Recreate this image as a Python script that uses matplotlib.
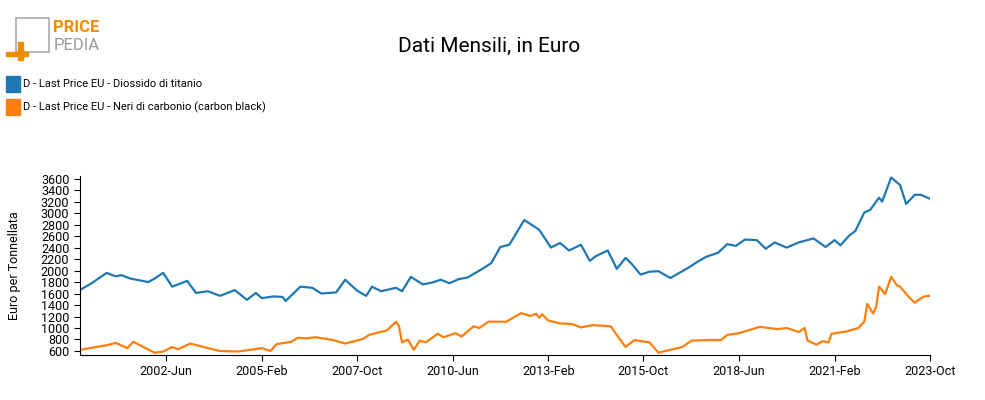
import matplotlib
matplotlib.use("Agg")
import matplotlib.pyplot as plt
from matplotlib.patches import Rectangle
import datetime as dt

# month offsets from 2000-Jan
tio2_months = [0, 4, 9, 12, 14, 17, 20, 23, 25, 28, 31, 36, 39, 43, 47, 52, 56, 59, 61, 65, 68,
               69, 74, 78, 81, 86, 89, 93, 96, 98, 101, 106, 108, 111, 115, 118, 121, 124, 127,
               130, 135, 138, 141, 144, 149, 154, 158, 161, 164, 168, 171, 173, 177, 180, 183,
               185, 188, 191, 194, 198, 201, 204, 207, 210, 214, 217, 220, 223, 227, 230, 233,
               237, 241, 246, 250, 253, 255, 258, 260, 263, 265, 268, 269, 272, 275, 277, 280,
               282, 285]
tio2_values = [1660, 1780, 1960, 1900, 1920, 1860, 1830, 1800, 1860, 1960, 1720, 1820, 1610,
               1640, 1560, 1660, 1490, 1610, 1520, 1550, 1540, 1470, 1720, 1700, 1600, 1620,
               1840, 1650, 1560, 1720, 1640, 1700, 1640, 1890, 1760, 1790, 1840, 1780, 1850,
               1880, 2030, 2130, 2410, 2450, 2880, 2710, 2400, 2480, 2350, 2450, 2170, 2250,
               2350, 2030, 2220, 2120, 1930, 1980, 1990, 1870, 1960, 2050, 2150, 2240, 2310,
               2460, 2430, 2540, 2530, 2380, 2490, 2400, 2490, 2560, 2410, 2530, 2440, 2610,
               2690, 3010, 3060, 3270, 3200, 3620, 3490, 3160, 3320, 3320, 3250]

cb_months = [0, 9, 12, 16, 18, 25, 28, 31, 33, 37, 43, 47, 53, 61, 64, 66, 71, 73, 76, 79,
             85, 89, 92, 95, 97, 100, 103, 106, 107, 108, 110, 112, 114, 116, 120, 122, 126,
             128, 132, 134, 137, 143, 146, 148, 151, 153, 154, 155, 157, 161, 165, 168, 172,
             178, 180, 183, 186, 191, 194, 198, 202, 205, 211, 215, 217, 221, 228, 234, 237,
             241, 243, 244, 247, 249, 251, 252, 257, 261, 263, 264, 266, 267, 268, 270, 272,
             274, 275, 278, 280, 281, 283, 285]
cb_values = [620, 700, 740, 650, 760, 570, 590, 670, 630, 730, 650, 600, 590, 650, 600, 720,
             760, 830, 820, 840, 790, 730, 770, 810, 880, 920, 960, 1110, 1030, 750, 800, 620,
             780, 750, 900, 840, 910, 850, 1030, 1000, 1110, 1110, 1200, 1260, 1210, 1250,
             1180, 1240, 1130, 1080, 1070, 1010, 1050, 1030, 880, 670, 790, 750, 570, 620,
             670, 780, 790, 790, 880, 910, 1020, 980, 1000, 930, 1000, 780, 710, 770, 750, 900,
             940, 1000, 1110, 1420, 1250, 1370, 1720, 1590, 1890, 1740, 1720, 1540, 1440, 1480,
             1550, 1560]

y_ticks = list(range(600, 3601, 200))
x_tick_labels = ["2002-Jun", "2005-Feb", "2007-Oct", "2010-Jun", "2013-Feb",
                 "2015-Oct", "2018-Jun", "2021-Feb", "2023-Oct"]


def to_date(m):
    return dt.date(2000 + m // 12, m % 12 + 1, 1)


plt.rcParams["font.family"] = "Roboto"
fig = plt.figure(figsize=(9.85, 4), dpi=100)
ax = fig.add_axes([0.081, 0.1125, 0.863, 0.448])

ax.plot([to_date(m) for m in tio2_months], tio2_values, color="#1f77b4", lw=1.6)
ax.plot([to_date(m) for m in cb_months], cb_values, color="#ff7f0e", lw=1.6)

ax.set_ylim(530, 3650)
ax.set_xlim(to_date(0), to_date(285))
ax.set_yticks(y_ticks)
ax.tick_params(labelsize=9, length=4)
xt = [dt.datetime.strptime(s, "%Y-%b").date() for s in x_tick_labels]
ax.set_xticks(xt)
ax.set_xticklabels(x_tick_labels)
ax.set_ylabel("Euro per Tonnellata", fontsize=9, labelpad=14)
for s in ("top", "right"):
    ax.spines[s].set_visible(False)

fig.text(0.497, 0.885, "Dati Mensili, in Euro", ha="center", va="center", fontsize=15)

# legend
fig.patches.append(Rectangle((0.006, 0.77), 0.014, 0.04, transform=fig.transFigure,
                             color="#1f77b4"))
fig.text(0.023, 0.79, "D - Last Price EU - Diossido di titanio", fontsize=8, va="center")
fig.patches.append(Rectangle((0.006, 0.713), 0.014, 0.04, transform=fig.transFigure,
                             color="#ff7f0e"))
fig.text(0.023, 0.733, "D - Last Price EU - Neri di carbonio (carbon black)",
         fontsize=8, va="center")

# logo
fig.patches.append(Rectangle((0.016, 0.87), 0.034, 0.085, transform=fig.transFigure,
                             fill=False, ec="#aaaaaa", lw=1.2))
fig.patches.append(Rectangle((0.006, 0.86), 0.022, 0.01, transform=fig.transFigure,
                             color="#f08c00"))
fig.patches.append(Rectangle((0.018, 0.85), 0.005, 0.045, transform=fig.transFigure,
                             color="#f08c00"))
fig.text(0.054, 0.93, "PRICE", fontsize=12, fontweight="bold", color="#f08c00", va="center")
fig.text(0.054, 0.885, "PEDIA", fontsize=12, color="#999999", va="center")

fig.savefig("out.png", dpi=100)
